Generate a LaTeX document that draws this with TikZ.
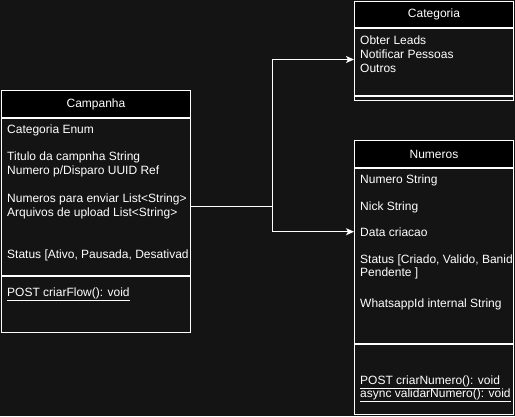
\documentclass[tikz,border=0pt]{standalone}
\usepackage{fontspec}
\setmainfont{Liberation Sans}
\usetikzlibrary{arrows.meta,positioning}
\definecolor{bgdark}{HTML}{141414}

\tikzset{
    classhead/.style={draw=white, fill=black, line width=1pt, anchor=north west,
        inner sep=0pt, text=white, font=\fontsize{12}{14}\selectfont},
    classbody/.style={draw=white, fill=bgdark, line width=1pt, anchor=north west,
        inner sep=0pt},
    attr/.style={anchor=base west, inner sep=0pt, text=white,
        font=\fontsize{12}{14}\selectfont},
    link/.style={draw=white, line width=1pt},
    linkarrow/.style={link, -{Stealth[length=8pt,width=7pt,inset=2pt]}}
}

\begin{document}
\begin{tikzpicture}[x=1pt,y=-1pt]

    \fill[bgdark] (0,0) rectangle (515,416);
    \useasboundingbox (0,0) rectangle (515,416);

    % Campanha class
    \node[classhead, minimum width=189pt, minimum height=27pt] (camphead) at (1,90) {Campanha};
    \node[classbody, minimum width=189pt, minimum height=157pt] (campbody) at (camphead.south west) {};
    \node[classbody, minimum width=189pt, minimum height=56pt] (campops) at (campbody.south west) {};

    \node[attr] (campcat) at (7,133) {Categoria Enum};
    \node[attr] (camptitle) at (7,160) {Titulo da campnha String};
    \node[attr] (campnum) at (7,174) {Numero p/Disparo UUID Ref};
    \node[attr] (campsend) at (7,202) {Numeros para enviar List<String>};
    \node[attr] (campfiles) at (7,216) {Arquivos de upload List<String>};
    \node[attr] (campstatus) at (7,258) {Status [Ativo, Pausada, Desativad};
    \node[attr] (campflow) at (7,296) {\underline{POST criarFlow(): void}};

    % Categoria class
    \node[classhead, minimum width=159pt, minimum height=26pt] (cathead) at (354,1) {Categoria};
    \node[classbody, minimum width=159pt, minimum height=67pt] (catbody) at (cathead.south west) {};
    \node[classbody, minimum width=159pt, minimum height=4pt] (catops) at (catbody.south west) {};

    \node[attr] (catleads) at (360,44) {Obter Leads};
    \node[attr] (catnotify) at (360,58) {Notificar Pessoas};
    \node[attr] (catother) at (360,72) {Outros};

    % Numeros class
    \node[classhead, minimum width=159pt, minimum height=27pt] (numhead) at (354,140) {Numeros};
    \node[classbody, minimum width=159pt, minimum height=175pt] (numbody) at (numhead.south west) {};
    \node[classbody, minimum width=159pt, minimum height=70pt] (numops) at (numbody.south west) {};

    \node[attr] (numnum) at (360,183) {Numero String};
    \node[attr] (numnick) at (360,210) {Nick String};
    \node[attr] (numdate) at (360,236) {Data criacao};
    \node[attr] (numstatus) at (360,263) {Status [Criado, Valido, Banid};
    \node[attr] (numpend) at (360,276) {Pendente ]};
    \node[attr] (numwhats) at (360,307) {WhatsappId internal String};
    \node[attr] (numcreate) at (360,384) {\underline{POST criarNumero(): void}};
    \node[attr] (numcheck) at (360,397) {\underline{async validarNumero(): void}};

    % Links
    \coordinate (fork) at (272,206);
    \draw[link] (campbody.east |- fork) -- (fork);
    \draw[linkarrow] (fork) |- ([yshift=2.5pt]catbody.west);
    \draw[linkarrow] (fork) |- (numdate.west -| numbody.west);

\end{tikzpicture}
\end{document}
